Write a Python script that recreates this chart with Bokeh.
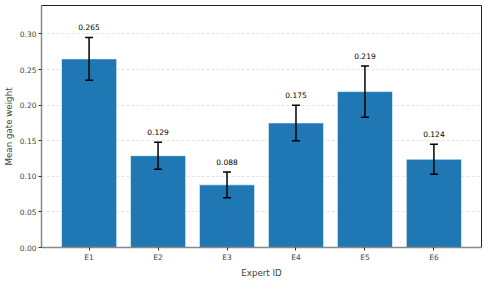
from bokeh.plotting import figure
from bokeh.models import ColumnDataSource, Range1d, FixedTicker, PrintfTickFormatter, Whisker, TeeHead
from bokeh.core.properties import value
from bokeh.embed import file_html
from bokeh.resources import INLINE

experts = ["E1", "E2", "E3", "E4", "E5", "E6"]
means = [0.265, 0.129, 0.088, 0.175, 0.219, 0.124]
stds = [0.030, 0.019, 0.018, 0.025, 0.036, 0.021]
y_ticks = [0.0, 0.05, 0.10, 0.15, 0.20, 0.25, 0.30]

xs = list(range(len(experts)))
src = ColumnDataSource(dict(
    x=xs,
    top=means,
    upper=[m + s for m, s in zip(means, stds)],
    lower=[m - s for m, s in zip(means, stds)],
    ly=[m + s + 0.01 for m, s in zip(means, stds)],
    label=[f"{m:.3f}" for m in means],
))

FONT = "DejaVu Sans"
p = figure(width=483, height=280, output_backend="svg", toolbar_location=None,
           x_range=Range1d(-0.69, 5.69), y_range=Range1d(0, 0.34),
           min_border_left=0, min_border_right=2, min_border_top=5, min_border_bottom=0)

p.vbar(x="x", top="top", width=0.8, source=src, fill_color="#1f77b4",
       line_color="white", line_alpha=0.6, line_width=1)

wh = Whisker(base="x", upper="upper", lower="lower", source=src,
             line_color="black", line_width=1.5, level="overlay",
             upper_head=TeeHead(size=8, line_color="black", line_width=1.5),
             lower_head=TeeHead(size=8, line_color="black", line_width=1.5))
p.add_layout(wh)

p.text(x="x", y="ly", text="label", source=src, text_align="center", text_baseline="bottom",
       text_font_size="7.5px", text_font=value(FONT), text_color="black")

p.xaxis.ticker = FixedTicker(ticks=xs)
p.xaxis.major_label_overrides = {i: e for i, e in enumerate(experts)}
p.yaxis.ticker = FixedTicker(ticks=y_ticks)
p.yaxis.formatter = PrintfTickFormatter(format="%.2f")

p.xaxis.axis_label = "Expert ID"
p.yaxis.axis_label = "Mean gate weight"
for ax in (p.xaxis, p.yaxis):
    ax.axis_label_text_font = FONT
    ax.axis_label_text_font_size = "8.7px"
    ax.axis_label_text_font_style = "normal"
    ax.axis_label_standoff = 3
    ax.major_label_text_font = FONT
    ax.major_label_text_font_size = "7.5px"
    ax.major_label_standoff = 2
    ax.major_tick_out = 3
    ax.major_tick_in = 0
    ax.minor_tick_out = 0
    ax.minor_tick_in = 0
    ax.major_tick_line_color = "#333333"
    ax.axis_line_color = "#888888"
    ax.axis_line_width = 1.5

p.xgrid.visible = False
p.ygrid.grid_line_color = "#dddddd"
p.ygrid.grid_line_dash = "3 2"
p.ygrid.grid_line_width = 0.8
p.outline_line_color = "#222222"
p.outline_line_width = 1
p.outline_line_alpha = 1
p.background_fill_color = "white"
p.border_fill_color = "white"

open("out.html", "w").write(file_html(p, INLINE))
